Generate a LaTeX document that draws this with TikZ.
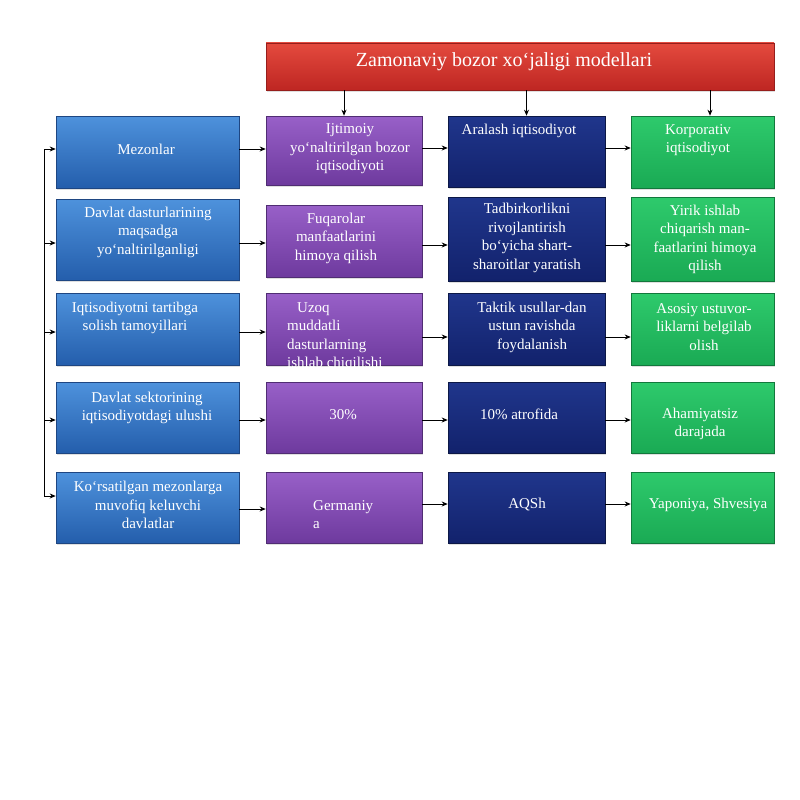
\documentclass[tikz,border=0pt]{standalone}
\usepackage{fontspec}
\setmainfont{Liberation Serif}
\usetikzlibrary{arrows.meta,shadows}
\definecolor{bluetop}{RGB}{78,146,220}
\definecolor{bluebot}{RGB}{36,94,172}
\definecolor{blueline}{RGB}{30,70,130}
\definecolor{purtop}{RGB}{152,96,200}
\definecolor{purbot}{RGB}{110,58,158}
\definecolor{purline}{RGB}{80,45,115}
\definecolor{navytop}{RGB}{32,54,140}
\definecolor{navybot}{RGB}{18,34,108}
\definecolor{navyline}{RGB}{12,24,70}
\definecolor{grntop}{RGB}{46,202,108}
\definecolor{grnbot}{RGB}{26,170,84}
\definecolor{grnline}{RGB}{18,120,60}
\definecolor{redtop}{RGB}{228,74,62}
\definecolor{redbot}{RGB}{190,38,34}
\definecolor{redline}{RGB}{150,30,28}
\begin{document}
\begin{tikzpicture}[x=1pt,y=-1pt,
  bx/.style={rectangle, inner sep=0pt, line width=0.6pt,
    drop shadow={shadow xshift=1.2pt,shadow yshift=-1.5pt,opacity=0.25}},
  bluebox/.style={bx, draw=blueline, top color=bluetop, bottom color=bluebot},
  purbox/.style={bx, draw=purline, top color=purtop, bottom color=purbot},
  navybox/.style={bx, draw=navyline, top color=navytop, bottom color=navybot},
  grnbox/.style={bx, draw=grnline, top color=grntop, bottom color=grnbot},
  redbox/.style={bx, draw=redline, top color=redtop, bottom color=redbot},
  txt/.style={text=white, inner sep=0pt, align=center,
    font=\fontsize{15}{18.5}\selectfont},
  ltxt/.style={txt, align=left, anchor=north west},
  arr/.style={draw=black, line width=0.8pt, -{Stealth[length=6pt,width=5pt]}}
]
\useasboundingbox (0,0) rectangle (800,800);

% title
\node[redbox, minimum width=508pt, minimum height=47pt] (title) at (520,66.5) {};
\node[txt, font=\fontsize{20}{24}\selectfont] (ttitle) at (504,62) {Zamonaviy bozor xo‘jaligi modellari};

% column 1
\node[bluebox, minimum width=183pt, minimum height=72pt] (c1r1) at (147.5,152) {};
\node[bluebox, minimum width=183pt, minimum height=81pt] (c1r2) at (147.5,239.5) {};
\node[bluebox, minimum width=183pt, minimum height=72pt] (c1r3) at (147.5,329) {};
\node[bluebox, minimum width=183pt, minimum height=71pt] (c1r4) at (147.5,417.5) {};
\node[bluebox, minimum width=183pt, minimum height=71pt] (c1r5) at (147.5,507.5) {};
% column 2
\node[purbox, minimum width=156pt, minimum height=69pt] (c2r1) at (344,150.5) {};
\node[purbox, minimum width=156pt, minimum height=72pt] (c2r2) at (344,241) {};
\node[purbox, minimum width=156pt, minimum height=72pt] (c2r3) at (344,329) {};
\node[purbox, minimum width=156pt, minimum height=71pt] (c2r4) at (344,417.5) {};
\node[purbox, minimum width=156pt, minimum height=71pt] (c2r5) at (344,507.5) {};
% column 3
\node[navybox, minimum width=157pt, minimum height=71pt] (c3r1) at (526.5,151.5) {};
\node[navybox, minimum width=157pt, minimum height=84pt] (c3r2) at (526.5,239) {};
\node[navybox, minimum width=157pt, minimum height=72pt] (c3r3) at (526.5,329) {};
\node[navybox, minimum width=157pt, minimum height=71pt] (c3r4) at (526.5,417.5) {};
\node[navybox, minimum width=157pt, minimum height=71pt] (c3r5) at (526.5,507.5) {};
% column 4
\node[grnbox, minimum width=143pt, minimum height=72pt] (c4r1) at (702.5,152) {};
\node[grnbox, minimum width=143pt, minimum height=84pt] (c4r2) at (702.5,239) {};
\node[grnbox, minimum width=143pt, minimum height=72pt] (c4r3) at (702.5,329) {};
\node[grnbox, minimum width=143pt, minimum height=71pt] (c4r4) at (702.5,417.5) {};
\node[grnbox, minimum width=143pt, minimum height=71pt] (c4r5) at (702.5,507.5) {};

% texts column 1
\node[txt] (t11) at (146,149) {Mezonlar};
\node[txt] (t12) at (148,232) {Davlat dasturlarining\\maqsadga\\yo‘naltirilganligi};
\node[txt] (t13) at (135,318) {Iqtisodiyotni tartibga\\solish tamoyillari};
\node[txt] (t14) at (147,408) {Davlat sektorining\\iqtisodiyotdagi ulushi};
\node[txt] (t15) at (148,505) {Ko‘rsatilgan mezonlarga\\muvofiq keluvchi\\davlatlar};
% texts column 2
\node[txt] (t21) at (350,149) {Ijtimoiy\\yo‘naltirilgan bozor\\iqtisodiyoti};
\node[txt] (t22) at (336,238) {Fuqarolar\\manfaatlarini\\himoya qilish};
\begin{scope}
  \clip (c2r3.north west) rectangle ([yshift=-1pt]c2r3.south east);
  \node[ltxt] (t23) at (287,302) {\hspace*{10pt}Uzoq\\muddatli\\dasturlarning\\ishlab chiqilishi};
\end{scope}
\node[txt] (t24) at (343,415) {30\%};
\node[ltxt] (t25) at (313,500) {Germaniy\\a};
% texts column 3
\node[txt] (t31) at (519,131) {Aralash iqtisodiyot};
\node[txt] (t32) at (527,238) {Tadbirkorlikni\\rivojlantirish\\bo‘yicha shart-\\sharoitlar yaratish};
\node[txt] (t33) at (532,327) {Taktik usullar-dan\\ustun ravishda\\foydalanish};
\node[txt] (t34) at (519,414) {10\% atrofida};
\node[txt] (t35) at (527,505) {AQSh};
% texts column 4
\node[txt] (t41) at (698,140) {Korporativ\\iqtisodiyot};
\node[txt] (t42) at (705,239.5) {Yirik ishlab\\chiqarish man-\\faatlarini himoya\\qilish};
\node[txt] (t43) at (704,327) {Asosiy ustuvor-\\liklarni belgilab\\olish};
\node[txt] (t44) at (700,424) {Ahamiyatsiz\\darajada};
\node[txt] (t45) at (708,505) {Yaponiya, Shvesiya};

% title arrows
\draw[arr] (title.south -| c2r1.north) -- (c2r1.north);
\draw[arr] (title.south -| c3r1.north) -- (c3r1.north);
\draw[arr] (title.south -| 710,0) -- (c4r1.north -| 710,0);

% left bracket
\coordinate (b1) at (44,149);
\coordinate (b2) at (44,243);
\coordinate (b3) at (44,332);
\coordinate (b4) at (44,420);
\coordinate (b5) at (44,496);
\draw[line width=0.8pt] (b1) -- (b5);
\draw[arr] (b1) -- (b1 -| c1r1.west);
\draw[arr] (b2) -- (b2 -| c1r2.west);
\draw[arr] (b3) -- (b3 -| c1r3.west);
\draw[arr] (b4) -- (b4 -| c1r4.west);
\draw[arr] (b5) -- (b5 -| c1r5.west);

% column 1 -> 2
\draw[arr] (c1r1.east |- 0,149) -- (c2r1.west |- 0,149);
\draw[arr] (c1r2.east |- 0,243) -- (c2r2.west |- 0,243);
\draw[arr] (c1r3.east |- 0,332) -- (c2r3.west |- 0,332);
\draw[arr] (c1r4.east |- 0,420) -- (c2r4.west |- 0,420);
\draw[arr] (c1r5.east |- 0,509) -- (c2r5.west |- 0,509);
% column 2 -> 3
\draw[arr] (c2r1.east |- 0,148) -- (c3r1.west |- 0,148);
\draw[arr] (c2r2.east |- 0,245) -- (c3r2.west |- 0,245);
\draw[arr] (c2r3.east |- 0,337) -- (c3r3.west |- 0,337);
\draw[arr] (c2r4.east |- 0,420) -- (c3r4.west |- 0,420);
\draw[arr] (c2r5.east |- 0,504) -- (c3r5.west |- 0,504);
% column 3 -> 4
\draw[arr] (c3r1.east |- 0,148) -- (c4r1.west |- 0,148);
\draw[arr] (c3r2.east |- 0,245) -- (c4r2.west |- 0,245);
\draw[arr] (c3r3.east |- 0,337) -- (c4r3.west |- 0,337);
\draw[arr] (c3r4.east |- 0,420) -- (c4r4.west |- 0,420);
\draw[arr] (c3r5.east |- 0,504) -- (c4r5.west |- 0,504);
\end{tikzpicture}
\end{document}
